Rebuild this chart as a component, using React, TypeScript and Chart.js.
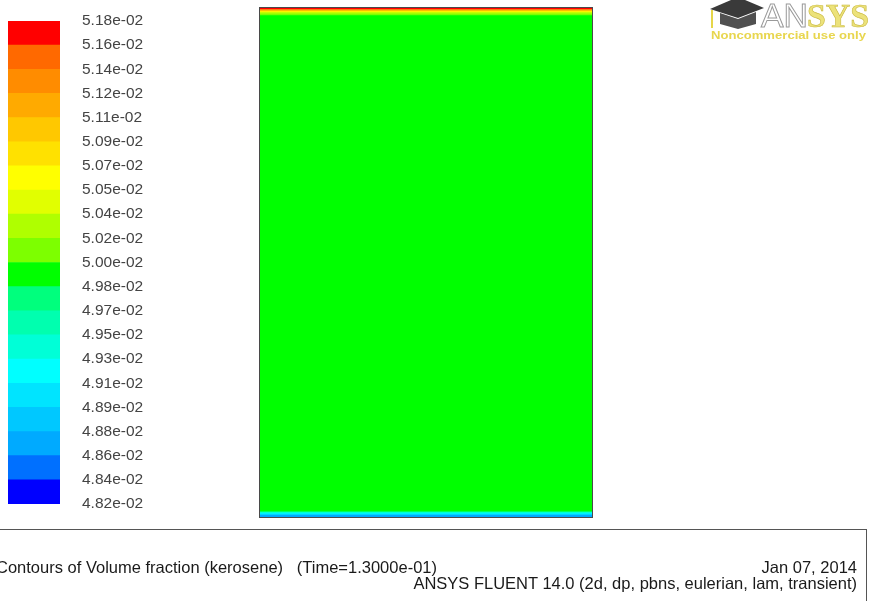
import React, { useEffect, useRef } from "react";
import { Chart, registerables } from "chart.js";

Chart.register(...registerables);

// Colour-bar tick labels, top to bottom
const COLORBAR_TICKS = [
  "5.18e-02", "5.16e-02", "5.14e-02", "5.12e-02", "5.11e-02", "5.09e-02", "5.07e-02",
  "5.05e-02", "5.04e-02", "5.02e-02", "5.00e-02", "4.98e-02", "4.97e-02", "4.95e-02",
  "4.93e-02", "4.91e-02", "4.89e-02", "4.88e-02", "4.86e-02", "4.84e-02", "4.82e-02",
];

// Colour bands, top to bottom (band i lies between tick i and tick i+1)
const BAND_COLORS = [
  "#ff0000", "#ff6900", "#ff8c00", "#ffaa00", "#ffc800", "#ffe100", "#ffff00",
  "#e1ff00", "#afff00", "#7dff00", "#00ff00", "#00ff7d", "#00ffaf", "#00ffd7",
  "#00ffff", "#00e4ff", "#00c8ff", "#00aaff", "#0070ff", "#0000ff",
];

// Domain layers (normalised height 0 = bottom, 1 = top) and their colour band
const LAYER_FROM = [0.0, 0.004, 0.006, 0.008, 0.01, 0.985, 0.988, 0.991, 0.993, 0.995, 0.997];
const LAYER_TO = [0.004, 0.006, 0.008, 0.01, 0.985, 0.988, 0.991, 0.993, 0.995, 0.997, 1.0];
const LAYER_BAND = [17, 15, 14, 12, 10, 9, 8, 6, 4, 2, 0];

const FONT = "'Liberation Sans', Arial, sans-serif";

function ColorBar() {
  const ref = useRef<HTMLCanvasElement>(null);
  useEffect(() => {
    const n = BAND_COLORS.length;
    const datasets = BAND_COLORS.slice()
      .reverse()
      .map((c, i) => ({
        label: "band" + i,
        data: [1],
        backgroundColor: c,
        borderWidth: 0,
        barPercentage: 1,
        categoryPercentage: 1,
      }));
    const chart = new Chart(ref.current!, {
      type: "bar",
      data: { labels: ["cb"], datasets },
      options: {
        animation: false,
        responsive: false,
        devicePixelRatio: 1,
        layout: { padding: { left: 8, top: 21, bottom: 97, right: 0 } },
        plugins: { legend: { display: false }, tooltip: { enabled: false } },
        scales: {
          x: { display: false, stacked: true },
          y: {
            stacked: true,
            position: "right",
            min: 0,
            max: n,
            grid: { display: false, drawTicks: true, tickLength: 22 },
            border: { display: false },
            afterFit: (s: any) => {
              s.width = 140;
            },
            ticks: {
              stepSize: 1,
              autoSkip: false,
              padding: 0,
              color: "#444444",
              font: { family: FONT, size: 15.5 },
              callback: (v: any) => COLORBAR_TICKS[n - Number(v)],
            },
          },
        },
      },
    });
    return () => chart.destroy();
  }, []);
  return (
    <canvas
      ref={ref}
      width={200}
      height={601}
      style={{ position: "absolute", left: 0, top: 0, width: 200, height: 601 }}
    />
  );
}

function Domain() {
  const ref = useRef<HTMLCanvasElement>(null);
  useEffect(() => {
    const datasets = LAYER_FROM.map((f, i) => ({
      label: "layer" + i,
      data: [[f, LAYER_TO[i]]] as any,
      backgroundColor: BAND_COLORS[LAYER_BAND[i]],
      borderWidth: 0,
      grouped: false,
      barPercentage: 1,
      categoryPercentage: 1,
    }));
    const frame = {
      id: "frame",
      afterDatasetsDraw(c: any) {
        const a = c.chartArea;
        const ctx = c.ctx;
        ctx.save();
        ctx.strokeStyle = "#4a4a4a";
        ctx.lineWidth = 1;
        ctx.strokeRect(a.left - 0.5, a.top - 0.5, a.right - a.left + 1, a.bottom - a.top + 1);
        ctx.restore();
      },
    };
    const chart = new Chart(ref.current!, {
      type: "bar",
      data: { labels: ["domain"], datasets },
      options: {
        animation: false,
        responsive: false,
        devicePixelRatio: 1,
        layout: { padding: { left: 60, right: 277, top: 8, bottom: 84 } },
        plugins: { legend: { display: false }, tooltip: { enabled: false } },
        scales: {
          x: { display: false },
          y: { display: false, min: 0, max: 1 },
        },
      },
      plugins: [frame],
    });
    return () => chart.destroy();
  }, []);
  return (
    <canvas
      ref={ref}
      width={669}
      height={601}
      style={{ position: "absolute", left: 200, top: 0, width: 669, height: 601 }}
    />
  );
}

function Logo() {
  return (
    <svg
      width={170}
      height={45}
      style={{ position: "absolute", left: 700, top: 0 }}
      viewBox="0 0 170 45"
    >
      {/* mortarboard */}
      <polygon points="10,9 38,-3 64,8 38,18" fill="#3a3a3a" />
      <polygon points="20,13 38,19 56,12 56,24 38,29 20,24" fill="#505050" />
      <line x1="12" y1="10" x2="12" y2="28" stroke="#e6d64a" strokeWidth="2" />
      <text
        x="61"
        y="27"
        fontFamily="'Liberation Sans', Arial, sans-serif"
        fontSize="34"
        fill="#ffffff"
        stroke="#9a9a9a"
        strokeWidth="1"
        textLength="47"
        lengthAdjust="spacingAndGlyphs"
      >
        AN
      </text>
      <text
        x="107"
        y="27"
        fontFamily="'Liberation Serif', serif"
        fontWeight="bold"
        fontSize="34"
        fill="#ece27a"
        stroke="#c9b940"
        strokeWidth="0.6"
        textLength="62"
        lengthAdjust="spacingAndGlyphs"
      >
        SYS
      </text>
      <text
        x="11"
        y="39"
        fontFamily="'Liberation Sans', Arial, sans-serif"
        fontWeight="bold"
        fontSize="11"
        fill="#e8d64e"
        textLength="155"
        lengthAdjust="spacingAndGlyphs"
      >
        Noncommercial use only
      </text>
    </svg>
  );
}

function Footer() {
  const txt: React.CSSProperties = {
    position: "absolute",
    fontFamily: FONT,
    fontSize: 16.5,
    color: "#1a1a1a",
    whiteSpace: "pre",
    lineHeight: "16px",
  };
  return (
    <div
      style={{
        position: "absolute",
        left: -10,
        top: 529,
        width: 877,
        height: 100,
        border: "1px solid #555",
        boxSizing: "border-box",
      }}
    >
      <div style={{ ...txt, left: 5, top: 29 }}>
        {"Contours of Volume fraction (kerosene)   (Time=1.3000e-01)"}
      </div>
      <div style={{ ...txt, right: 9, top: 29 }}>Jan 07, 2014</div>
      <div style={{ ...txt, right: 9, top: 45 }}>
        ANSYS FLUENT 14.0 (2d, dp, pbns, eulerian, lam, transient)
      </div>
    </div>
  );
}

export default function App() {
  return (
    <div
      style={{
        position: "fixed",
        left: 0,
        top: 0,
        width: 869,
        height: 601,
        overflow: "hidden",
        background: "#ffffff",
      }}
    >
      <ColorBar />
      <Domain />
      <Logo />
      <Footer />
    </div>
  );
}
